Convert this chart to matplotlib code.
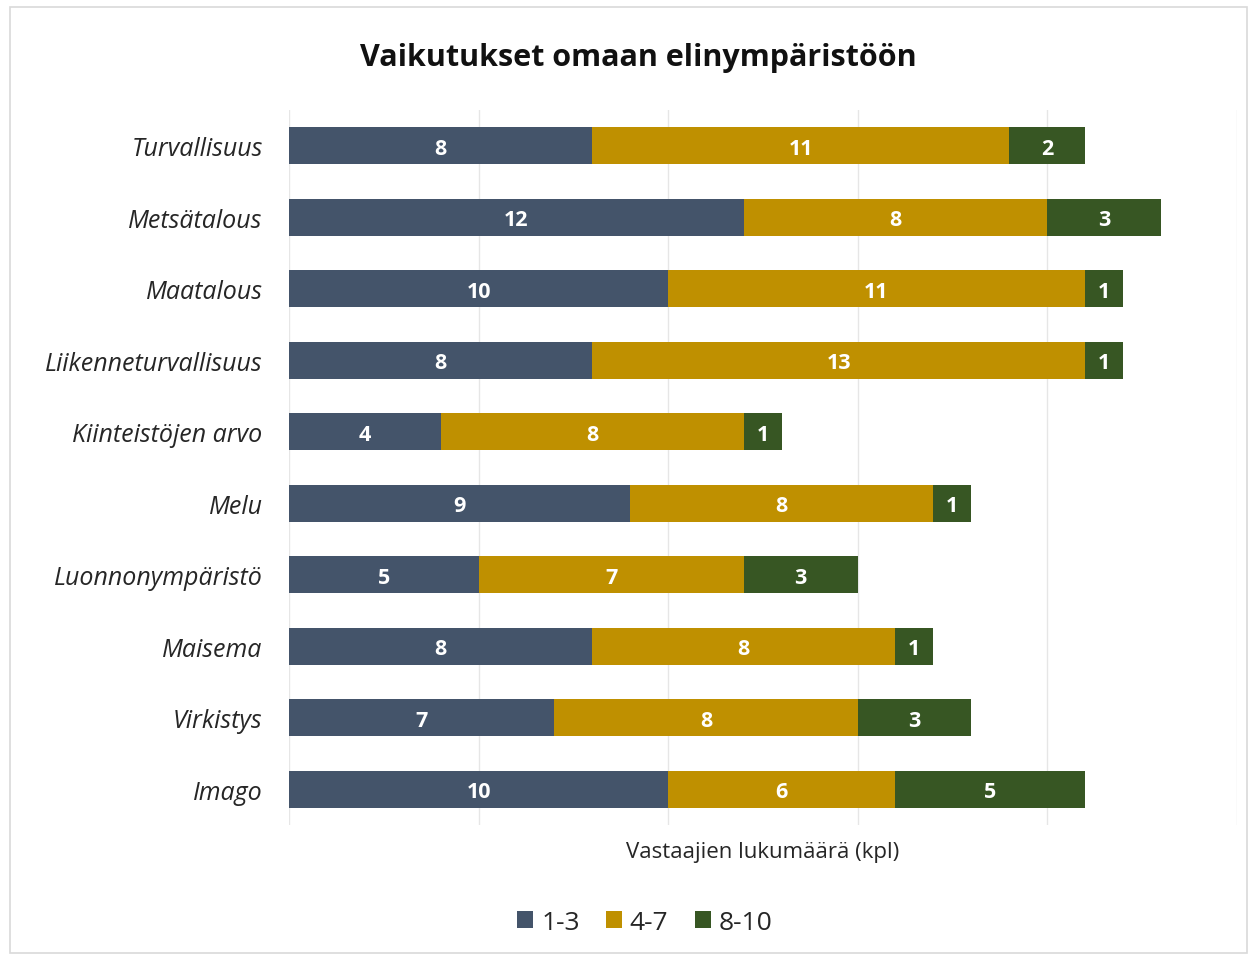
import matplotlib.pyplot as plt
import numpy as np
from matplotlib.patches import Rectangle

categories = ['Turvallisuus', 'Metsätalous', 'Maatalous', 'Liikenneturvallisuus',
              'Kiinteistöjen arvo', 'Melu', 'Luonnonympäristö', 'Maisema',
              'Virkistys', 'Imago']
low = [8, 12, 10, 8, 4, 9, 5, 8, 7, 10]
mid = [11, 8, 11, 13, 8, 8, 7, 8, 8, 6]
high = [2, 3, 1, 1, 1, 1, 3, 1, 3, 5]
series_names = ['1-3', '4-7', '8-10']
colors = ['#44546A', '#BF9000', '#375623']

plt.rcParams['font.family'] = ['Open Sans', 'DejaVu Sans']

fig = plt.figure(figsize=(12.57, 9.62), dpi=100)
fig.patches.append(Rectangle((0.008, 0.008), 0.984, 0.984, transform=fig.transFigure,
                             fill=False, edgecolor='#D9D9D9', linewidth=1.2))
ax = fig.add_axes([0.23, 0.1414, 0.7537, 0.7432])

y = np.arange(len(categories))
left = np.zeros(len(categories))
for vals, name, col in zip([low, mid, high], series_names, colors):
    bars = ax.barh(y, vals, left=left, height=0.52, color=col, label=name)
    for b, v in zip(bars, vals):
        ax.text(b.get_x() + b.get_width() / 2, b.get_y() + b.get_height() / 2, str(v),
                ha='center', va='center_baseline', color='white', fontsize=15.5,
                fontweight='bold')
    left += np.array(vals)

ax.set_xlim(0, 25)
ax.set_ylim(len(categories) - 0.5, -0.5)
ax.set_xticks([0, 5, 10, 15, 20, 25])
ax.set_xticklabels([])
ax.tick_params(axis='x', length=0)
ax.tick_params(axis='y', length=0, pad=19)
ax.set_yticks(y)
ax.set_yticklabels(categories, fontsize=18, style='italic', color='#262626')
ax.grid(axis='x', color='#E6E6E6', linewidth=1)
ax.set_axisbelow(True)
for s in ax.spines.values():
    s.set_visible(False)

ax.set_xlabel('Vastaajien lukumäärä (kpl)', fontsize=16, color='#262626', labelpad=8)
fig.suptitle('Vaikutukset omaan elinympäristöön', x=0.508, y=0.955, fontsize=22,
             fontweight='bold', color='#111111')
fig.legend(loc='center', bbox_to_anchor=(0.513, 0.04), ncol=3, frameon=False,
           fontsize=19, handlelength=0.6, handleheight=0.6, handletextpad=0.3,
           columnspacing=1.0, labelcolor='#262626')

fig.savefig('out.png', dpi=100)
